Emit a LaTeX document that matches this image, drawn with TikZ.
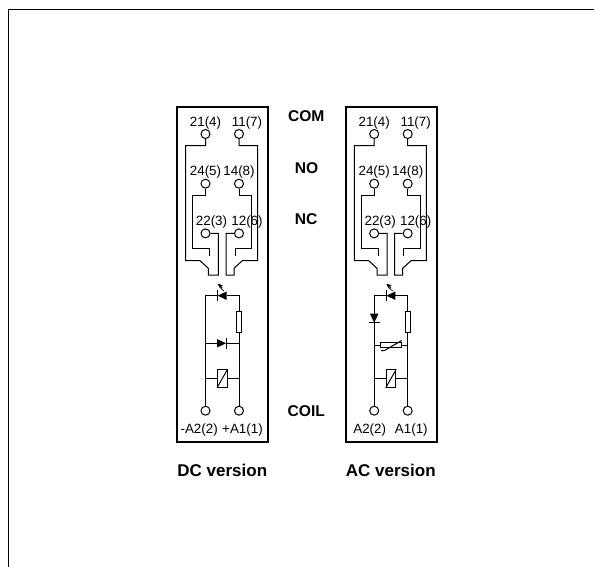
\documentclass[tikz,border=0pt]{standalone}
\usepackage{fontspec}
\setmainfont{Liberation Sans}
\usetikzlibrary{arrows, shapes.geometric}

\begin{document}
\begin{tikzpicture}[
    x=1pt,
    y=-1pt,
    line width=1pt,
    node distance=49.7pt,
    terminal/.style={circle, draw, fill=white, inner sep=0pt, minimum size=9pt},
    tag/.style={font=\fontsize{13.4}{14}\selectfont, inner sep=0pt, label distance=-0.5pt},
    head/.style={font=\fontsize{15.6}{17}\selectfont\bfseries, inner sep=0pt},
    caption/.style={font=\fontsize{17}{19}\selectfont\bfseries, inner sep=0pt},
    panel/.style={draw, line width=1.6pt},
    part/.style={rectangle, draw, inner sep=0pt},
    diodeleft/.style={isosceles triangle, isosceles triangle stretches, fill=black, inner sep=0pt,
        outer sep=0pt, minimum width=8.5pt, minimum height=9pt, shape border rotate=180, anchor=apex},
    dioderight/.style={diodeleft, shape border rotate=0},
    diodedown/.style={diodeleft, shape border rotate=-90},
    spark/.style={->, >=stealth', line width=0.7pt}]

    \useasboundingbox (0,0) rectangle (594,567);
    \coordinate (FrameA) at (8.3,567);
    \coordinate (FrameB) at (594,9.3);
    \draw[line width=1.2pt] (FrameA) |- (FrameB);

    % DC version
    \coordinate (dcBoxA) at (177,107);
    \coordinate (dcBoxB) at (268,442);
    \draw[panel] (dcBoxA) rectangle (dcBoxB);

    \node[terminal,label={[tag]above:21(4)}]             (dcT21) at (205.5,134) {};
    \node[terminal,label={[tag,xshift=8pt]above:11(7)}]  (dcT11) [right of=dcT21,node distance=33.5pt] {};
    \node[terminal,label={[tag]above:24(5)}]             (dcT24) [below of=dcT21] {};
    \node[terminal,label={[tag]above:14(8)}]             (dcT14) [below of=dcT11] {};
    \node[terminal,label={[tag,xshift=6pt]above:22(3)}]  (dcT22) [below of=dcT24] {};
    \node[terminal,label={[tag,xshift=8pt]above:12(6)}]  (dcT12) [below of=dcT14] {};
    \coordinate (dcC24) at (209.3,256);
    \coordinate (dcC14) at (235,256);

    \draw (dcT21) -- (205.5,145.7) -- (185.7,145.7) -- (185.7,260.7) -- (200,260.7) -- (208.3,268.3)
        -- (208.3,275) -- (218.3,275) -- (218.3,233.4) -- (dcT22);
    \draw (dcT11) -- (239,145.7) -- (257.7,145.7) -- (257.7,260.7) -- (242.3,260.7) -- (234,268.3)
        -- (234,275) -- (226,275) -- (226,233.4) -- (dcT12);
    \draw (dcT24) -- (205.5,195.7) -- (192.3,195.7) -- (192.3,248.3) -- (209.3,248.3) -- (dcC24);
    \draw (dcT14) -- (239,195.7) -- (251.7,195.7) -- (251.7,248.3) -- (235,248.3) -- (dcC14);

    \node[terminal,label={[tag,xshift=-6.3pt,label distance=8pt]below:-A2(2)}] (dcA2) at (205.5,410.7) {};
    \node[terminal,label={[tag,xshift=3.5pt,label distance=8pt]below:+A1(1)}]  (dcA1) at (239,410.7) {};
    \node[part,minimum width=9.5pt,minimum height=17.5pt] (dcCoil) at (222.3,378.5) {};
    \node[part,minimum width=5.4pt,minimum height=20.5pt] (dcRes) at (239,322) {};
    \node[dioderight] (dcDiode) at (226,343.3) {};
    \node[diodeleft]  (dcLed)   at (217.7,295.7) {};
    \coordinate (dcLedA) at (224,291);
    \coordinate (dcLedB) at (218,284);

    \draw (dcA2) -- (205.5,295.7) -- (dcLed.apex);
    \draw (dcLed) -- (239,295.7) -- (dcRes.north);
    \draw (dcRes.south) -- (dcA1);
    \draw (205.5,343.3) -- (dcDiode) -- (239,343.3);
    \draw (205.5,378.5) -- (dcCoil.west);
    \draw (dcCoil.east) -- (239,378.5);
    \draw (dcCoil.south west) -- (dcCoil.north east);
    \draw (dcDiode.apex) ++(0,-5.5) -- ++(0,11);
    \draw (dcLed.apex) ++(0,-5.5) -- ++(0,11);
    \draw[spark] (dcLedA) -- ++(-3,-2.5) -- ++(1,-1) -- (dcLedB);

    % AC version
    \begin{scope}[xshift=168.7pt]
    \coordinate (acBoxA) at (177,107);
    \coordinate (acBoxB) at (268,442);
    \draw[panel] (acBoxA) rectangle (acBoxB);

    \node[terminal,label={[tag]above:21(4)}]             (acT21) at (205.5,134) {};
    \node[terminal,label={[tag,xshift=8pt]above:11(7)}]  (acT11) [right of=acT21,node distance=33.5pt] {};
    \node[terminal,label={[tag]above:24(5)}]             (acT24) [below of=acT21] {};
    \node[terminal,label={[tag]above:14(8)}]             (acT14) [below of=acT11] {};
    \node[terminal,label={[tag,xshift=6pt]above:22(3)}]  (acT22) [below of=acT24] {};
    \node[terminal,label={[tag,xshift=8pt]above:12(6)}]  (acT12) [below of=acT14] {};
    \coordinate (acC24) at (209.3,256);
    \coordinate (acC14) at (235,256);

    \draw (acT21) -- (205.5,145.7) -- (185.7,145.7) -- (185.7,260.7) -- (200,260.7) -- (208.3,268.3)
        -- (208.3,275) -- (218.3,275) -- (218.3,233.4) -- (acT22);
    \draw (acT11) -- (239,145.7) -- (257.7,145.7) -- (257.7,260.7) -- (242.3,260.7) -- (234,268.3)
        -- (234,275) -- (226,275) -- (226,233.4) -- (acT12);
    \draw (acT24) -- (205.5,195.7) -- (192.3,195.7) -- (192.3,248.3) -- (209.3,248.3) -- (acC24);
    \draw (acT14) -- (239,195.7) -- (251.7,195.7) -- (251.7,248.3) -- (235,248.3) -- (acC14);

    \node[terminal,label={[tag,xshift=-4.5pt,label distance=8pt]below:A2(2)}] (acA2) at (205.5,410.7) {};
    \node[terminal,label={[tag,xshift=3.6pt,label distance=8pt]below:A1(1)}]  (acA1) at (239,410.7) {};
    \node[part,minimum width=9.5pt,minimum height=17.5pt] (acCoil) at (222.3,378.5) {};
    \node[part,minimum width=5.4pt,minimum height=20.5pt] (acRes) at (239,322) {};
    \node[part,minimum width=21.5pt,minimum height=5.4pt] (acVar) at (222.3,345) {};
    \node[diodedown] (acDiode) at (205.5,322.7) {};
    \node[diodeleft] (acLed)   at (217.7,295.7) {};
    \coordinate (acLedA) at (224,291);
    \coordinate (acLedB) at (218,284);

    \draw (acA2) -- (acDiode.apex);
    \draw (acDiode) -- (205.5,295.7) -- (acLed.apex);
    \draw (acLed) -- (239,295.7) -- (acRes.north);
    \draw (acRes.south) -- (acA1);
    \draw (205.5,345) -- (acVar.west);
    \draw (acVar.east) -- (239,345);
    \draw (205.5,378.5) -- (acCoil.west);
    \draw (acCoil.east) -- (239,378.5);
    \draw (acCoil.south west) -- (acCoil.north east);
    \draw (212.5,350.7) -- (215.5,350.7) -- (233,340.5);
    \draw (acDiode.apex) ++(-5.5,0) -- ++(11,0);
    \draw (acLed.apex) ++(0,-5.5) -- ++(0,11);
    \draw[spark] (acLedA) -- ++(-3,-2.5) -- ++(1,-1) -- (acLedB);
    \end{scope}

    \node[head] (com)  at (306.2,116.5)  {COM};
    \node[head] (no)   at (306.5,168.5)  {NO};
    \node[head] (nc)   at (306.2,219)    {NC};
    \node[head] (coil) at (306.3,411.5)  {COIL};
    \node[caption] (dc) at (222.3,470.5) {DC version};
    \node[caption] (ac) at (390.8,470.5) {AC version};
\end{tikzpicture}
\end{document}
